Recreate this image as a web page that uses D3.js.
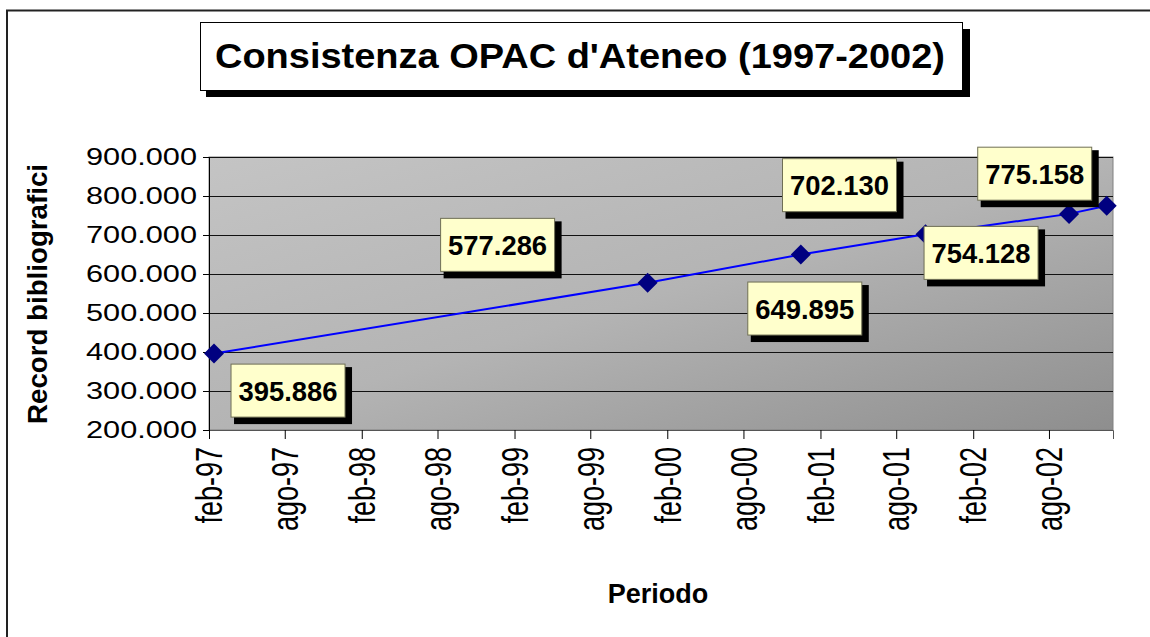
<!DOCTYPE html>
<html>
<head>
<meta charset="utf-8">
<script src="https://cdn.jsdelivr.net/npm/d3@7"></script>
<style>
  body { margin: 0; background: #fff; }
  svg { display: block; }
  text { font-family: "Liberation Sans", Arial, sans-serif; fill: #000; }
</style>
</head>
<body>
<svg id="chart" width="1150" height="637"></svg>
<script>
// data
var dates = ["1997-02-13", "1999-12-16", "2000-12-16", "2001-10-10", "2002-09-18", "2002-12-17"];
var records = [395886, 577286, 649895, 702130, 754128, 775158];
var valueLabels = ["395.886", "577.286", "649.895", "702.130", "754.128", "775.158"];

var tickDates = ["1997-02-01", "1997-08-01", "1998-02-01", "1998-08-01", "1999-02-01", "1999-08-01",
                 "2000-02-01", "2000-08-01", "2001-02-01", "2001-08-01", "2002-02-01", "2002-08-01"];
var tickLabels = ["feb-97", "ago-97", "feb-98", "ago-98", "feb-99", "ago-99",
                  "feb-00", "ago-00", "feb-01", "ago-01", "feb-02", "ago-02"];
var yTicks = [200000, 300000, 400000, 500000, 600000, 700000, 800000, 900000];

// where each data label box sits, relative to its point (box centre)
var labelOffsets = [[74, 37], [-150, -38], [4, 54], [-86, -49], [-88, 39], [-72, -32]];

var parse = d3.timeParse("%Y-%m-%d");
var svg = d3.select("#chart");

var margin = {left: 209, top: 157, right: 1113, bottom: 430};

var x = d3.scaleTime()
    .domain([parse("1997-02-01"), parse("2003-01-01")])
    .range([margin.left, margin.right]);
var y = d3.scaleLinear()
    .domain([200000, 900000])
    .range([margin.bottom, margin.top]);

var itLocale = d3.formatLocale({decimal: ",", thousands: ".", grouping: [3], currency: ["", "€"]});
var fmt = itLocale.format(",");

// outer chart frame
svg.append("rect")
    .attr("x", 7).attr("y", 10.5)
    .attr("width", 1160).attr("height", 660)
    .attr("fill", "none").attr("stroke", "#222").attr("stroke-width", 2);

// plot area with gradient
var defs = svg.append("defs");
var grad = defs.append("linearGradient").attr("id", "bg")
    .attr("x1", 0).attr("y1", 0).attr("x2", 1).attr("y2", 1);
grad.append("stop").attr("offset", 0).attr("stop-color", "#c4c4c4");
grad.append("stop").attr("offset", 0.5).attr("stop-color", "#b4b4b4");
grad.append("stop").attr("offset", 1).attr("stop-color", "#8e8e8e");

svg.append("rect")
    .attr("x", margin.left).attr("y", margin.top)
    .attr("width", margin.right - margin.left)
    .attr("height", margin.bottom - margin.top)
    .attr("fill", "url(#bg)")
    .attr("stroke", "#808080").attr("stroke-width", 1);

// gridlines
svg.append("g").selectAll("line")
    .data(yTicks)
    .join("line")
    .attr("x1", margin.left).attr("x2", margin.right)
    .attr("y1", d => Math.round(y(d)) + 0.5).attr("y2", d => Math.round(y(d)) + 0.5)
    .attr("stroke", "#111").attr("stroke-width", 1);

// y axis
var yAxis = svg.append("g")
    .attr("transform", `translate(${margin.left},0)`)
    .call(d3.axisLeft(y).tickValues(yTicks).tickSize(6).tickPadding(6).tickFormat(fmt));
yAxis.select(".domain").attr("stroke", "#000");
yAxis.selectAll(".tick line").attr("stroke", "#000");
yAxis.selectAll(".tick text")
    .style("font-size", "24px")
    .attr("font-family", null)
    .attr("textLength", 111).attr("lengthAdjust", "spacingAndGlyphs");

// x axis
var xAxis = svg.append("g")
    .attr("transform", `translate(0,${margin.bottom})`)
    .call(d3.axisBottom(x).tickValues(tickDates.map(parse)).tickSize(9)
        .tickFormat((d, i) => tickLabels[i]));
xAxis.select(".domain").attr("stroke", "#555");
xAxis.selectAll(".tick line").attr("stroke", "#000");
xAxis.selectAll(".tick text")
    .attr("font-family", null)
    .style("font-size", "27px")
    .attr("text-anchor", "end")
    .attr("transform", "scale(1.35,1) rotate(-90)")
    .attr("x", -17).attr("y", 0).attr("dy", "0.35em");

// series line
var pts = dates.map((d, i) => ({date: parse(d), value: records[i], label: valueLabels[i], off: labelOffsets[i]}));
svg.append("path")
    .datum(pts)
    .attr("fill", "none")
    .attr("stroke", "#0000ff")
    .attr("stroke-width", 2)
    .attr("d", d3.line().x(d => x(d.date)).y(d => y(d.value)));

// diamond markers
svg.append("g").selectAll("path")
    .data(pts)
    .join("path")
    .attr("transform", d => `translate(${x(d.date)},${y(d.value)})`)
    .attr("d", "M0,-10L10,0L0,10L-10,0Z")
    .attr("fill", "#000080");

// data labels
var lab = svg.append("g").selectAll("g")
    .data(pts)
    .join("g")
    .attr("transform", d => `translate(${x(d.date) + d.off[0]},${y(d.value) + d.off[1]})`);
lab.append("rect")
    .attr("x", -54).attr("y", -23.5).attr("width", 118).attr("height", 57)
    .attr("fill", "#000");
lab.append("rect")
    .attr("x", -57).attr("y", -26.5).attr("width", 114).attr("height", 53)
    .attr("fill", "#ffffcc").attr("stroke", "#6f6f55").attr("stroke-width", 1);
lab.append("text")
    .attr("text-anchor", "middle")
    .attr("y", 10)
    .style("font-size", "27px").style("font-weight", "bold")
    .attr("textLength", 99).attr("lengthAdjust", "spacingAndGlyphs")
    .text(d => d.label);

// title box
svg.append("rect")
    .attr("x", 206).attr("y", 29).attr("width", 764).attr("height", 68)
    .attr("fill", "#000");
svg.append("rect")
    .attr("x", 200.5).attr("y", 22.5).attr("width", 762).attr("height", 68)
    .attr("fill", "#fff").attr("stroke", "#000").attr("stroke-width", 1);
svg.append("text")
    .attr("x", 580).attr("y", 68)
    .attr("text-anchor", "middle")
    .style("font-size", "35px").style("font-weight", "bold")
    .attr("textLength", 730).attr("lengthAdjust", "spacingAndGlyphs")
    .text("Consistenza OPAC d'Ateneo (1997-2002)");

// axis titles
svg.append("text")
    .attr("transform", "translate(47,294) rotate(-90)")
    .attr("text-anchor", "middle")
    .style("font-size", "27px").style("font-weight", "bold")
    .attr("textLength", 260).attr("lengthAdjust", "spacingAndGlyphs")
    .text("Record bibliografici");
svg.append("text")
    .attr("x", 658).attr("y", 603)
    .attr("text-anchor", "middle")
    .style("font-size", "27px").style("font-weight", "bold")
    .text("Periodo");
</script>
</body>
</html>
